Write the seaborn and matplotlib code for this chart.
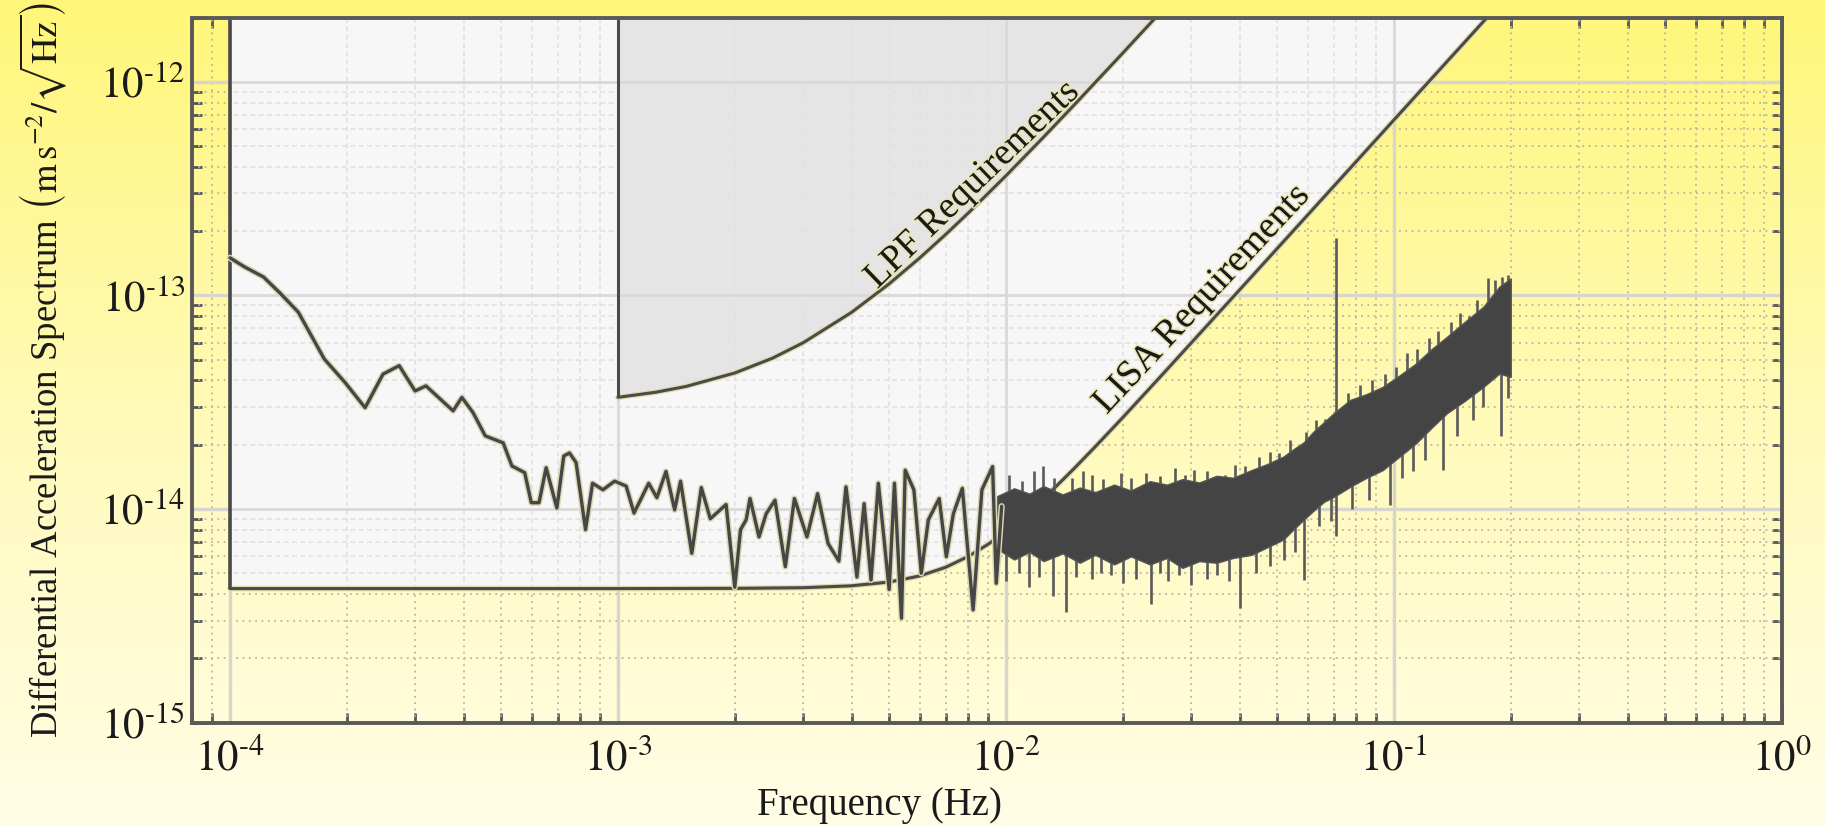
import numpy as np
import matplotlib
matplotlib.use("Agg")
import matplotlib.pyplot as plt
import matplotlib.ticker as mticker
import matplotlib.patheffects as pe
from matplotlib.colors import LinearSegmentedColormap
import seaborn as sns

# ---------------- data ----------------
# Low-frequency part of the measured spectrum (Hz, m s^-2 / sqrt(Hz))
SPEC_F = [1.00e-4, 1.09e-4, 1.22e-4, 1.35e-4, 1.50e-4, 1.62e-4, 1.75e-4, 1.98e-4,
          2.23e-4, 2.48e-4, 2.73e-4, 3.00e-4, 3.20e-4, 3.76e-4, 3.96e-4, 4.23e-4,
          4.55e-4, 5.06e-4, 5.33e-4, 5.75e-4, 5.98e-4, 6.26e-4, 6.53e-4, 6.96e-4,
          7.25e-4, 7.50e-4, 7.80e-4, 8.25e-4, 8.60e-4, 9.15e-4, 9.80e-4, 1.05e-3,
          1.10e-3, 1.20e-3, 1.26e-3, 1.33e-3, 1.40e-3, 1.45e-3, 1.55e-3, 1.64e-3,
          1.73e-3, 1.90e-3, 2.00e-3, 2.07e-3, 2.14e-3, 2.19e-3, 2.31e-3, 2.41e-3,
          2.54e-3, 2.70e-3, 2.85e-3, 3.07e-3, 3.27e-3, 3.48e-3, 3.71e-3, 3.87e-3,
          4.13e-3, 4.31e-3, 4.49e-3, 4.69e-3, 5.00e-3, 5.16e-3, 5.38e-3, 5.50e-3,
          5.79e-3, 6.05e-3, 6.31e-3, 6.73e-3, 7.02e-3, 7.32e-3, 7.72e-3, 8.23e-3,
          8.67e-3, 9.24e-3, 9.44e-3, 9.75e-3]
SPEC_V = [1.50e-13, 1.36e-13, 1.22e-13, 1.02e-13, 8.35e-14, 6.49e-14, 5.04e-14, 3.91e-14,
          2.98e-14, 4.28e-14, 4.69e-14, 3.57e-14, 3.77e-14, 2.88e-14, 3.33e-14, 2.83e-14,
          2.20e-14, 2.04e-14, 1.59e-14, 1.48e-14, 1.07e-14, 1.07e-14, 1.56e-14, 1.01e-14,
          1.77e-14, 1.83e-14, 1.65e-14, 8.00e-15, 1.32e-14, 1.23e-14, 1.35e-14, 1.28e-14,
          9.57e-15, 1.32e-14, 1.13e-14, 1.50e-14, 9.90e-15, 1.35e-14, 6.20e-15, 1.26e-14,
          9.00e-15, 1.05e-14, 4.30e-15, 8.00e-15, 8.90e-15, 1.12e-14, 7.40e-15, 9.50e-15,
          1.10e-14, 5.37e-15, 1.12e-14, 7.40e-15, 1.18e-14, 6.90e-15, 5.70e-15, 1.27e-14,
          4.80e-15, 1.06e-14, 4.65e-15, 1.32e-14, 4.20e-15, 1.32e-14, 3.08e-15, 1.52e-14,
          1.23e-14, 5.00e-15, 8.90e-15, 1.12e-14, 5.98e-15, 9.50e-15, 1.25e-14, 3.37e-15,
          1.23e-14, 1.58e-14, 4.49e-15, 1.03e-14]

# High-frequency dense noise band: lower / upper envelope
BAND_F = [0.0095, 0.0105, 0.0115, 0.0125, 0.0140, 0.0155, 0.0170, 0.0190, 0.0210,
          0.0235, 0.0260, 0.0285, 0.0315, 0.0349, 0.0385, 0.0429, 0.0470, 0.0519,
          0.0550, 0.0585, 0.0620, 0.0660, 0.0700, 0.0771, 0.0850, 0.0935, 0.1030,
          0.1140, 0.1250, 0.1370, 0.1520, 0.1700, 0.1870, 0.2000]
BAND_LO = [6.5e-15, 5.8e-15, 6.3e-15, 5.7e-15, 6.2e-15, 5.6e-15, 6.1e-15, 5.5e-15, 6.0e-15,
           5.5e-15, 5.9e-15, 5.3e-15, 5.7e-15, 5.6e-15, 5.9e-15, 6.1e-15, 6.6e-15, 7.2e-15,
           8.0e-15, 8.9e-15, 9.8e-15, 1.08e-14, 1.14e-14, 1.27e-14, 1.40e-14, 1.52e-14,
           1.75e-14, 2.03e-14, 2.40e-14, 2.81e-14, 3.20e-14, 3.73e-14, 4.31e-14, 4.15e-14]
BAND_HI = [1.15e-14, 1.25e-14, 1.18e-14, 1.28e-14, 1.17e-14, 1.26e-14, 1.20e-14, 1.30e-14,
           1.22e-14, 1.35e-14, 1.30e-14, 1.38e-14, 1.33e-14, 1.43e-14, 1.40e-14, 1.52e-14,
           1.62e-14, 1.76e-14, 1.90e-14, 2.05e-14, 2.30e-14, 2.55e-14, 2.81e-14, 3.24e-14,
           3.45e-14, 3.73e-14, 4.20e-14, 4.80e-14, 5.60e-14, 6.40e-14, 7.50e-14, 8.85e-14,
           1.10e-13, 1.20e-13]

# Spikes poking above the band (frequency, tip)
UP_F = [0.0102, 0.0110, 0.0118, 0.01245, 0.0133, 0.0148, 0.0158, 0.0167, 0.0178, 0.0198,
        0.0210, 0.0230, 0.0250, 0.0272, 0.0290, 0.0306, 0.0330, 0.0366, 0.0390, 0.0412,
        0.0450, 0.0480, 0.0505, 0.0540, 0.0592, 0.0630, 0.0664, 0.0711, 0.0760, 0.0820,
        0.0880, 0.0950, 0.1010, 0.1080, 0.1150, 0.1230, 0.1300, 0.1400, 0.1480, 0.1560,
        0.1640, 0.1750, 0.1820, 0.1900, 0.1970]
UP_TIP = [1.45e-14, 1.35e-14, 1.50e-14, 1.59e-14, 1.40e-14, 1.40e-14, 1.50e-14, 1.45e-14,
          1.38e-14, 1.48e-14, 1.40e-14, 1.48e-14, 1.42e-14, 1.55e-14, 1.45e-14, 1.53e-14,
          1.50e-14, 1.45e-14, 1.60e-14, 1.59e-14, 1.75e-14, 1.85e-14, 1.83e-14, 2.10e-14,
          2.30e-14, 2.60e-14, 2.65e-14, 1.85e-13, 3.50e-14, 3.80e-14, 4.00e-14, 4.30e-14,
          4.60e-14, 5.35e-14, 5.60e-14, 6.30e-14, 6.80e-14, 7.50e-14, 8.30e-14, 8.00e-14,
          9.50e-14, 1.20e-13, 1.18e-13, 1.22e-13, 1.24e-13]
# Spikes dropping below the band (frequency, tip)
DOWN_F = [0.0100, 0.0108, 0.0115, 0.0122, 0.0132, 0.01427, 0.0152, 0.0167, 0.0176, 0.0186,
          0.0200, 0.0216, 0.0237, 0.0250, 0.0262, 0.0280, 0.0300, 0.0329, 0.0350, 0.0375,
          0.0400, 0.0440, 0.0480, 0.0520, 0.0555, 0.0586, 0.0640, 0.0690, 0.0711, 0.0780,
          0.0860, 0.0976, 0.1050, 0.1120, 0.1200, 0.1340, 0.1450, 0.1600, 0.1700, 0.1890,
          0.1970]
DOWN_TIP = [4.6e-15, 5.0e-15, 4.3e-15, 4.8e-15, 3.9e-15, 3.3e-15, 4.8e-15, 4.7e-15, 5.0e-15,
            4.9e-15, 4.5e-15, 4.7e-15, 3.6e-15, 5.0e-15, 4.6e-15, 4.9e-15, 4.4e-15, 4.7e-15,
            4.9e-15, 4.6e-15, 3.45e-15, 5.0e-15, 5.4e-15, 5.8e-15, 6.3e-15, 4.65e-15, 8.3e-15,
            8.8e-15, 7.5e-15, 1.0e-14, 1.1e-14, 1.04e-14, 1.4e-14, 1.5e-14, 1.7e-14, 1.52e-14,
            2.2e-14, 2.6e-14, 3.0e-14, 2.2e-14, 3.3e-14]

# LISA requirement curve
LISA_F = [1e-4, 1e-3, 2e-3, 3e-3, 4e-3, 5e-3, 6e-3, 7e-3, 8e-3, 9e-3, 1e-2, 1.1e-2,
          1.2e-2, 1.3e-2, 1.5e-2, 1.7e-2, 2e-2, 2.5e-2, 3e-2, 4e-2, 6e-2, 8e-2, 0.1,
          0.15, 0.2]
LISA_V = [4.24e-15, 4.24e-15, 4.25e-15, 4.28e-15, 4.37e-15, 4.55e-15, 4.86e-15, 5.34e-15,
          6.00e-15, 6.84e-15, 7.87e-15, 9.07e-15, 1.044e-14, 1.197e-14, 1.55e-14, 1.96e-14,
          2.68e-14, 4.16e-14, 5.98e-14, 1.061e-13, 2.385e-13, 4.24e-13, 6.63e-13, 1.49e-12,
          2.65e-12]

# LPF requirement curve
LPF_F = [1e-3, 1.25e-3, 1.5e-3, 2e-3, 2.5e-3, 3e-3, 4e-3, 5e-3, 6e-3, 7e-3, 8e-3, 1e-2,
         1.25e-2, 1.5e-2, 2e-2, 2.5e-2]
LPF_V = [3.333e-14, 3.52e-14, 3.75e-14, 4.333e-14, 5.08e-14, 6.0e-14, 8.33e-14, 1.133e-13,
         1.5e-13, 1.933e-13, 2.433e-13, 3.633e-13, 5.508e-13, 7.8e-13, 1.363e-12, 2.113e-12]

X_TICKS = [1e-4, 1e-3, 1e-2, 1e-1, 1e0]
X_TICK_LABELS = [r"$10^{\text{-}4}$", r"$10^{\text{-}3}$", r"$10^{\text{-}2}$",
                 r"$10^{\text{-}1}$", r"$10^{0}$"]
Y_TICKS = [1e-15, 1e-14, 1e-13, 1e-12]
Y_TICK_LABELS = [r"$10^{\text{-}15}$", r"$10^{\text{-}14}$", r"$10^{\text{-}13}$",
                 r"$10^{\text{-}12}$"]

XLIM = (8e-5, 1.0)
YLIM = (1e-15, 2e-12)
REGION_TOP = 1e-11

# ---------------- style ----------------
sns.set_theme(style="ticks")
plt.rcParams['font.family'] = ['Liberation Serif', 'DejaVu Serif']
plt.rcParams['mathtext.fontset'] = 'stix'

fig = plt.figure(figsize=(18.25, 8.26), dpi=100)

# yellow gradient background
bg = fig.add_axes([0, 0, 1, 1], zorder=-10)
grad = np.linspace(0, 1, 256).reshape(-1, 1)
cmap = LinearSegmentedColormap.from_list('bgy', ['#fff679', '#fffab8', '#fffde6'])
bg.imshow(grad, aspect='auto', cmap=cmap, extent=[0, 1, 0, 1])
bg.axis('off')

ax = fig.add_axes([0.1054, 0.1252, 0.871, 0.8536])
ax.set_facecolor('none')
ax.set_xscale('log')
ax.set_yscale('log')
ax.set_xlim(*XLIM)
ax.set_ylim(*YLIM)

# grid positions
x_major = X_TICKS
x_minor = [k * 10.0 ** e for e in range(-5, 0) for k in range(2, 10)
           if XLIM[0] < k * 10.0 ** e < XLIM[1]]
y_major = Y_TICKS
y_minor = [k * 10.0 ** e for e in range(-15, -11) for k in range(2, 10)
           if YLIM[0] < k * 10.0 ** e < YLIM[1]]
xt = ax.get_xaxis_transform()
yt = ax.get_yaxis_transform()

# grid in the yellow area
ax.vlines(x_minor, 0, 1, transform=xt, colors='#b8b7a2', lw=1.3,
          linestyles=(0, (1, 2.5)), zorder=0.6)
ax.hlines(y_minor, 0, 1, transform=yt, colors='#b8b7a2', lw=1.3,
          linestyles=(0, (1, 2.5)), zorder=0.6)
ax.vlines(x_major, 0, 1, transform=xt, colors='#d6d6cc', lw=2.4, zorder=0.7)
ax.hlines(y_major, 0, 1, transform=yt, colors='#d6d6cc', lw=2.4, zorder=0.7)

# requirement regions
white = ax.fill_between(LISA_F, LISA_V, REGION_TOP, color='#f7f7f7', lw=0, zorder=1)
lpf = ax.fill_between(LPF_F, LPF_V, REGION_TOP, color='#e5e5e5', lw=0, zorder=1.2)

# faint grid inside the requirement region
clip_path = white.get_paths()[0]
g1 = ax.vlines(x_minor, 0, 1, transform=xt, colors='#e2e2e2', lw=1.2,
               linestyles=(0, (3, 2)), zorder=1.5)
g2 = ax.hlines(y_minor, 0, 1, transform=yt, colors='#e2e2e2', lw=1.2,
               linestyles=(0, (3, 2)), zorder=1.5)
g3 = ax.vlines(x_major, 0, 1, transform=xt, colors='#d9d9d9', lw=2.0, zorder=1.5)
g4 = ax.hlines(y_major, 0, 1, transform=yt, colors='#d9d9d9', lw=2.0, zorder=1.5)
for g in (g1, g2, g3, g4):
    g.set_clip_path(clip_path, ax.transData)

# requirement curves
edge_fx = [pe.Stroke(linewidth=4.0, foreground='#e0dcaa'), pe.Normal()]
sns.lineplot(x=LISA_F, y=LISA_V, ax=ax, color='#4a4a4a', lw=2.2, sort=False,
             estimator=None, zorder=2, path_effects=edge_fx)
sns.lineplot(x=LPF_F, y=LPF_V, ax=ax, color='#4a4a4a', lw=2.2, sort=False,
             estimator=None, zorder=2, path_effects=edge_fx)
ax.vlines([LISA_F[0]], [LISA_V[0]], [REGION_TOP], colors='#4a4a4a', lw=2.6, zorder=2)
ax.vlines([LPF_F[0]], [LPF_V[0]], [REGION_TOP], colors='#4a4a4a', lw=2.2, zorder=2)

# measured spectrum: dense band plus its spikes
band_mid_log = 0.5 * (np.log10(BAND_LO) + np.log10(BAND_HI))
up_base = 10 ** np.interp(np.log10(UP_F), np.log10(BAND_F), band_mid_log)
down_base = 10 ** np.interp(np.log10(DOWN_F), np.log10(BAND_F), band_mid_log)
ax.vlines(UP_F, up_base, UP_TIP, colors='#5a5a5a', lw=1.9, zorder=2.9)
ax.vlines(DOWN_F, DOWN_TIP, down_base, colors='#5a5a5a', lw=1.9, zorder=2.9)
ax.fill_between(BAND_F, BAND_LO, BAND_HI, color='#444444', lw=1.0,
                edgecolor='#555555', zorder=3)
sns.lineplot(x=SPEC_F, y=SPEC_V, ax=ax, color='#464646', lw=2.4, sort=False,
             estimator=None, zorder=3.2,
             path_effects=[pe.Stroke(linewidth=4.5, foreground='#d9d7b2'), pe.Normal()])

# annotations
txt_fx = [pe.withStroke(linewidth=2.2, foreground='#e8e4b0')]
ax.text(8.2e-3, 3.3e-13, 'LPF Requirements', rotation=44, ha='center', va='center',
        fontsize=27, color='#1a1a1a', rotation_mode='anchor', zorder=4,
        path_effects=txt_fx)
ax.text(3.2e-2, 9.6e-14, 'LISA Requirements', rotation=47, ha='center', va='center',
        fontsize=27, color='#1a1a1a', rotation_mode='anchor', zorder=4,
        path_effects=txt_fx)

# axes, ticks, labels
ax.set_xticks(X_TICKS)
ax.set_xticklabels(X_TICK_LABELS)
ax.set_yticks(Y_TICKS)
ax.set_yticklabels(Y_TICK_LABELS)
ax.xaxis.set_minor_locator(mticker.LogLocator(base=10, subs=np.arange(2, 10), numticks=20))
ax.yaxis.set_minor_locator(mticker.LogLocator(base=10, subs=np.arange(2, 10), numticks=20))
ax.xaxis.set_minor_formatter(mticker.NullFormatter())
ax.yaxis.set_minor_formatter(mticker.NullFormatter())
ax.tick_params(which='both', direction='in', top=True, right=True,
               color='#555555', width=2.0, labelcolor='#1a1a1a')
ax.tick_params(which='major', length=12, labelsize=31)
ax.tick_params(axis='x', which='major', pad=12)
ax.tick_params(axis='y', which='major', pad=5)
ax.tick_params(which='minor', length=7)
for s in ax.spines.values():
    s.set_color('#595959')
    s.set_linewidth(2.8)
    s.set_zorder(5)

ax.set_xlabel('Frequency (Hz)', fontsize=28, color='#1a1a1a')
ax.xaxis.set_label_coords(0.432, -0.117)
ax.xaxis.label.set_va('center')
ax.set_ylabel(r'Differential Acceleration Spectrum $\left(\mathrm{m\,s^{-2}}/\sqrt{\mathrm{Hz}}\right)$',
              fontsize=26.5, color='#1a1a1a')
ax.yaxis.set_label_coords(-0.0935, 0.5)
ax.yaxis.label.set_va('center')

fig.savefig('out.png', dpi=100)
